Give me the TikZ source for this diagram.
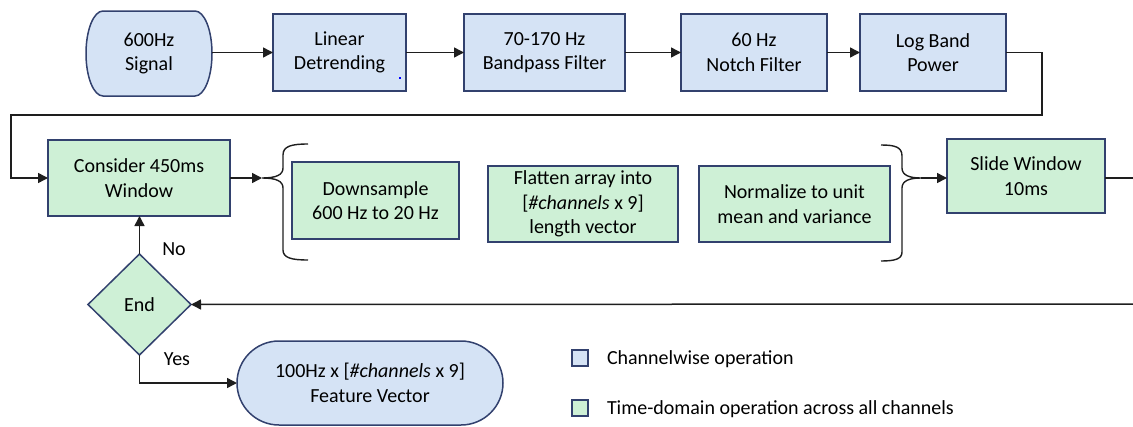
\documentclass[tikz,border=0pt]{standalone}
\usepackage{fontspec}
\setmainfont{Carlito}
\usetikzlibrary{arrows.meta,shapes.geometric,shapes.misc}
\definecolor{chanfill}{RGB}{213,227,245}
\definecolor{timefill}{RGB}{206,240,214}
\definecolor{edgeblue}{RGB}{50,65,110}
\definecolor{wire}{RGB}{30,30,30}
\tikzset{
  boxbase/.style={draw=edgeblue, line width=1.5pt, align=center, inner sep=2pt, outer sep=0pt, text=black},
  chan/.style={boxbase, fill=chanfill, rectangle, minimum height=77pt},
  timebox/.style={boxbase, fill=timefill, rectangle, minimum height=76pt},
  keybox/.style={draw=edgeblue, line width=1.9pt, minimum size=16pt, inner sep=0pt, outer sep=0pt},
  wirestyle/.style={draw=wire, line width=1.5pt},
  arrowwire/.style={wirestyle, -{Triangle[length=10pt,width=10pt]}},
  bracestyle/.style={draw=wire, line width=1.4pt},
  tag/.style={inner sep=0pt, outer sep=0pt},
}
\begin{document}
\begin{tikzpicture}[x=1pt, y=-1pt, font=\fontsize{20}{24.5}\selectfont]
\useasboundingbox (0,0) rectangle (1133,426);

% input signal terminator with elliptical sides
\path[draw=edgeblue, fill=chanfill, line width=1.5pt]
  (103,11) -- (195,11)
  .. controls (204.4,11) and (212,30) .. (212,53.5)
  .. controls (212,77) and (204.4,96) .. (195,96)
  -- (103,96)
  .. controls (93.6,96) and (86,77) .. (86,53.5)
  .. controls (86,30) and (93.6,11) .. (103,11) -- cycle;
\node[tag, align=center, minimum width=126pt, minimum height=85pt] (sig) at (149,53.5) {600Hz\\Signal};

% channelwise stages
\node[chan, minimum width=133pt] (lin) at (339.5,52.5) {Linear\\Detrending};
\node[chan, minimum width=161pt] (bp) at (544.5,52.5) {70-170 Hz\\Bandpass Filter};
\node[chan, minimum width=146pt] (notch) at (754,52.5) {60 Hz\\Notch Filter};
\node[chan, minimum width=146pt] (log) at (933,52.5) {Log Band\\Power};
\fill[blue] (399,77) rectangle (401,79);

% windowed stages
\node[timebox, minimum width=182pt] (cons) at (139,178) {Consider 450ms\\Window};
\node[timebox, minimum width=167pt, minimum height=77pt] (down) at (375.5,200.5) {Downsample\\600 Hz to 20 Hz};
\node[timebox, minimum width=190pt] (flat) at (583,204) {Flatten array into\\{[}\textit{\#channels} x 9]\\length vector};
\node[timebox, minimum width=191pt] (norm) at (794.5,204) {Normalize to unit\\mean and variance};
\node[timebox, minimum width=158pt, minimum height=74pt] (slide) at (1026,176) {Slide Window\\10ms};

% decision and output
\node[boxbase, fill=timefill, diamond, aspect=1, minimum width=103pt, minimum height=101pt, inner sep=0pt] (stop) at (139.5,304.5) {End};
\node[boxbase, fill=chanfill, rounded rectangle, minimum width=270pt, minimum height=84pt] (feat) at (370,383) {100Hz x [\textit{\#channels} x 9]\\Feature Vector};

\node[tag, anchor=base] (no) at (174,255.5) {No};
\node[tag, anchor=base] (yes) at (177,365.5) {Yes};

% key
\node[keybox, fill=chanfill] (keyA) at (580,358) {};
\node[tag, anchor=base west] (keyAtext) at (607,364) {Channelwise operation};
\node[keybox, fill=timefill] (keyB) at (580,408) {};
\node[tag, anchor=base west] (keyBtext) at (607,414) {Time-domain operation across all channels};

% top row connectors
\draw[arrowwire] (sig.east |- lin.west) -- (lin.west);
\draw[arrowwire] (lin) -- (bp);
\draw[arrowwire] (bp) -- (notch);
\draw[arrowwire] (notch) -- (log);
\coordinate (upR) at (1042,115);
\coordinate (upL) at (11,115);
\draw[arrowwire] (log.east) -| (upR) -- (upL) |- (cons.west);

% braces grouping the per-window steps
\coordinate (lb) at (262,178);
\coordinate (rb) at (921,178);
\draw[arrowwire] (cons.east) -- (lb);
\draw[bracestyle] (308,144) .. controls (292,144) and (283,146) .. (283,155)
  -- (283,168) .. controls (283,175) and (276,178) .. (lb)
  .. controls (276,178) and (283,181) .. (283,188)
  -- (283,250) .. controls (283,258) and (292,260) .. (308,260);
\draw[bracestyle] (881,145) .. controls (895,145) and (902,147) .. (902,156)
  -- (902,168) .. controls (902,175) and (909,178) .. (rb)
  .. controls (909,178) and (902,181) .. (902,188)
  -- (902,252) .. controls (902,259) and (895,261) .. (881,261);
\draw[arrowwire] (rb) -- (rb -| slide.west);

% loop back to the decision
\coordinate (outR) at (1133,178);
\coordinate (backR) at (1133,304);
\draw[wirestyle] (outR -| slide.east) -- (outR);
\draw[arrowwire] (backR) -- (stop.east);
\draw[arrowwire] (stop.north) -- (stop.north |- cons.south);
\draw[arrowwire] (stop.south) |- (feat.west);
\end{tikzpicture}
\end{document}
